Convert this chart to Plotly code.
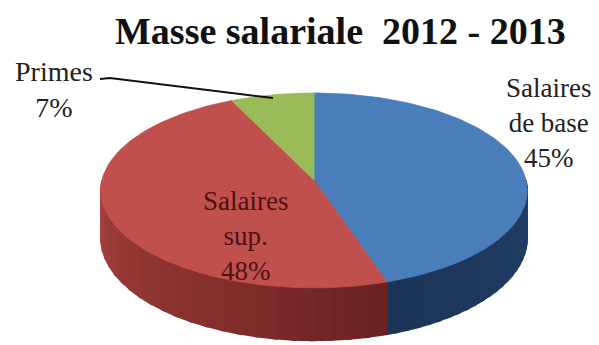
import numpy as np
import plotly.graph_objects as go

# ---- data ----
labels = ["Salaires de base", "Salaires sup.", "Primes"]
values = [45, 48, 7]
label_text = ["Salaires<br>de base<br>45%", "Salaires<br>sup.<br>48%", "Primes<br>7%"]
top_colors = ["#4A7EBB", "#C0504D", "#9BBB59"]
side_colors = [("#223F68", "#1C3457"), ("#6A2220", "#A8423F"), ("#7A9446", "#7A9446")]
title = "Masse salariale  2012 - 2013"

# ---- geometry (pixel space, simple perspective) ----
W, H = 599, 345
cx, cy0, rx, rz, depth, k = 314, 180, 212, 96.3, 47, 0.107
SERIF = "Liberation Serif, Times New Roman, serif"


def pt(theta, dy=0.0):
    t = np.radians(theta)
    X, Z = np.sin(t), np.cos(t)
    d = 1 + k * Z
    return cx + rx * X / d, cy0 - rz * Z / d + dy / d


def hex2rgb(h):
    h = h.lstrip("#")
    return [int(h[i:i + 2], 16) for i in (0, 2, 4)]


def mix(c1, c2, f):
    a, b = hex2rgb(c1), hex2rgb(c2)
    return "rgb(%d,%d,%d)" % tuple(round(a[i] + (b[i] - a[i]) * f) for i in range(3))


total = sum(values)
starts, ends = [], []
acc = 0.0
for v in values:
    starts.append(acc / total * 360)
    acc += v
    ends.append(acc / total * 360)

fig = go.Figure()

# side walls (front half: 90..270 degrees)
for i in range(len(values)):
    a0, a1 = max(starts[i], 90), min(ends[i], 270)
    if a1 <= a0:
        continue
    n = 24
    edges = np.linspace(a0, a1, n + 1)
    for kk in range(n):
        seg = np.linspace(edges[kk], min(edges[kk + 1] + 0.8, a1), 5)
        xs_t, ys_t = pt(seg)
        xs_b, ys_b = pt(seg[::-1], depth)
        f = (kk + 0.5) / n
        col = mix(side_colors[i][0], side_colors[i][1], f)
        fig.add_trace(go.Scatter(
            x=list(xs_t) + list(xs_b) + [xs_t[0]], y=list(ys_t) + list(ys_b) + [ys_t[0]],
            fill="toself", fillcolor=col, mode="lines",
            line=dict(color=col, width=1.5), hoverinfo="skip", showlegend=False))

# top faces
for i in range(len(values)):
    seg = np.linspace(starts[i], ends[i], 120)
    xs, ys = pt(seg)
    fig.add_trace(go.Scatter(
        x=[cx] + list(xs) + [cx], y=[cy0] + list(ys) + [cy0],
        fill="toself", fillcolor=top_colors[i], mode="lines",
        line=dict(color=top_colors[i], width=0.8),
        name=labels[i], hoverinfo="name", showlegend=False))

annotations = [
    dict(x=548, y=123, text=label_text[0], font=dict(family=SERIF, size=27, color="#222222")),
    dict(x=245, y=236, text=label_text[1], font=dict(family=SERIF, size=27, color="#4E1010")),
    dict(x=54, y=89, text=label_text[2], font=dict(family=SERIF, size=28, color="#222222")),
    dict(x=340, y=31, text="<b>" + title + "</b>", font=dict(family=SERIF, size=38, color="#111111")),
]
for a in annotations:
    a.update(xref="x", yref="y", showarrow=False, align="center",
             xanchor="center", yanchor="middle")

fig.update_layout(
    width=W, height=H, margin=dict(l=0, r=0, t=0, b=0),
    paper_bgcolor="white", plot_bgcolor="white",
    xaxis=dict(range=[0, W], visible=False, fixedrange=True),
    yaxis=dict(range=[H, 0], visible=False, fixedrange=True),
    annotations=annotations,
    shapes=[dict(type="path", xref="x", yref="y", path="M 100 79 L 110 78 L 273 98",
                 line=dict(color="#111111", width=2))],
)

fig.write_html("out.html")
